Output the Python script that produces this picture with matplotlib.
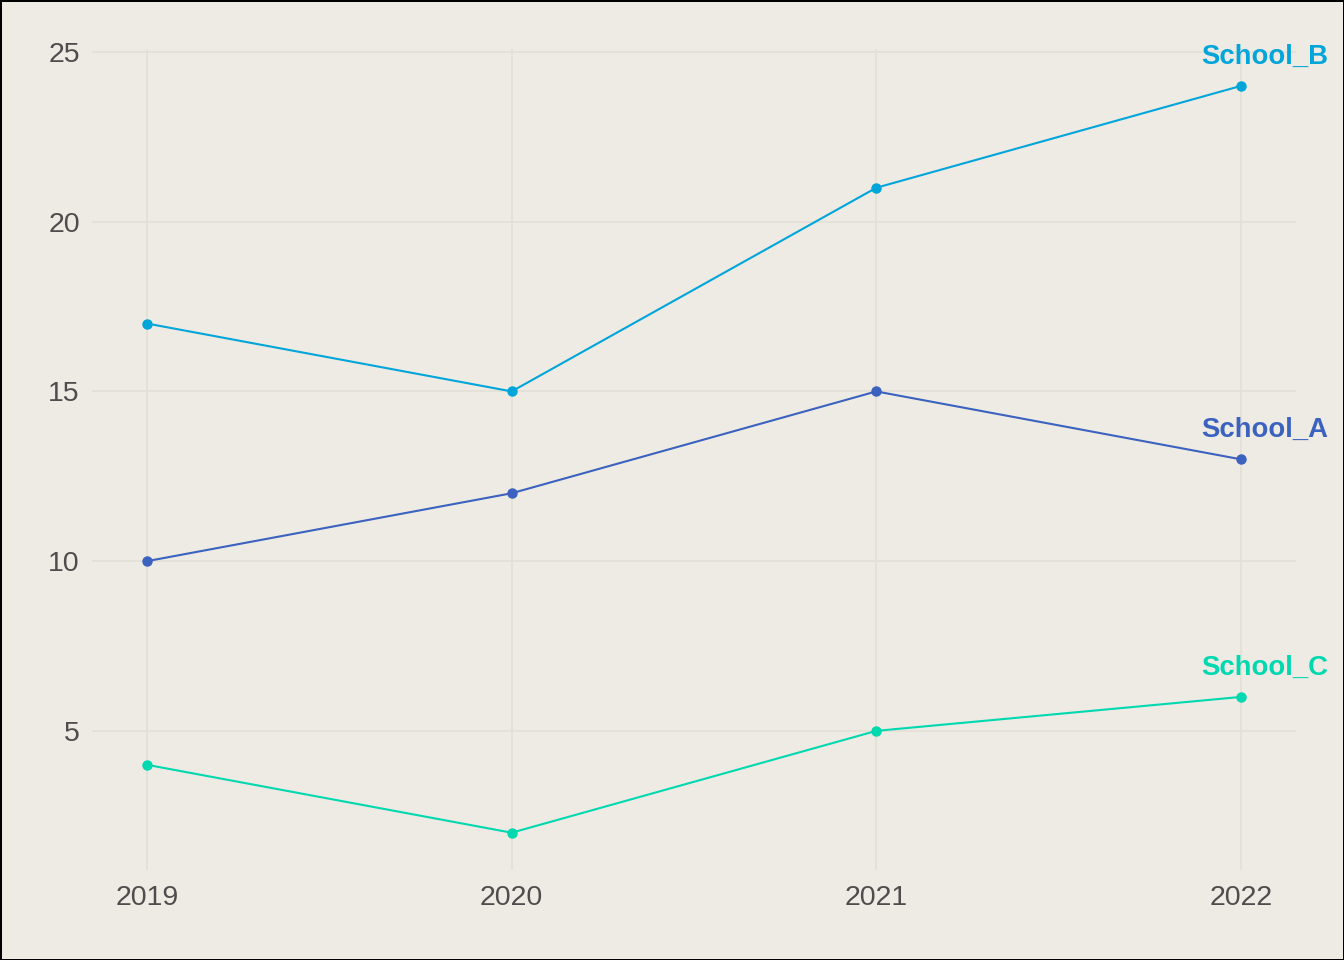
import matplotlib.pyplot as plt

# Data
years = [2019, 2020, 2021, 2022]
school_a = [10, 12, 15, 13]
school_b = [17, 15, 21, 24]
school_c = [4, 2, 5, 6]

series = {
    'School_A': (school_a, '#3B62BF'),
    'School_B': (school_b, '#00A5DA'),
    'School_C': (school_c, '#00D8B0'),
}

bg = '#EEEBE4'
plt.rcParams['font.family'] = ['Liberation Sans', 'DejaVu Sans']

fig = plt.figure(figsize=(13.44, 9.6), dpi=100, facecolor=bg,
                 edgecolor='black', linewidth=2)
ax = fig.add_axes([0.0687, 0.0937, 0.8953, 0.8557])
ax.set_facecolor(bg)

for name, (vals, col) in series.items():
    ax.plot(years, vals, color=col, linewidth=1.5, marker='o', markersize=6.5,
            zorder=3)
    ax.annotate(name, (years[-1], vals[-1]), xytext=(17, 21),
                textcoords='offset points', ha='center', va='center',
                color=col, fontsize=19.8, fontweight='bold',
                annotation_clip=False)

ax.set_xlim(2018.85, 2022.15)
ax.set_ylim(0.9, 25.1)
ax.set_xticks(years)
ax.set_xticklabels([str(y) for y in years])
ax.set_yticks([5, 10, 15, 20, 25])
ax.grid(True, color='#E3E0D8', linewidth=1.3)
ax.set_axisbelow(True)
for s in ax.spines.values():
    s.set_visible(False)
ax.tick_params(length=0, labelsize=20.5, labelcolor='#4D4D4D', pad=11)
ax.tick_params(axis='y', pad=9)

fig.savefig('out.png', dpi=100, facecolor=bg, edgecolor='black')
